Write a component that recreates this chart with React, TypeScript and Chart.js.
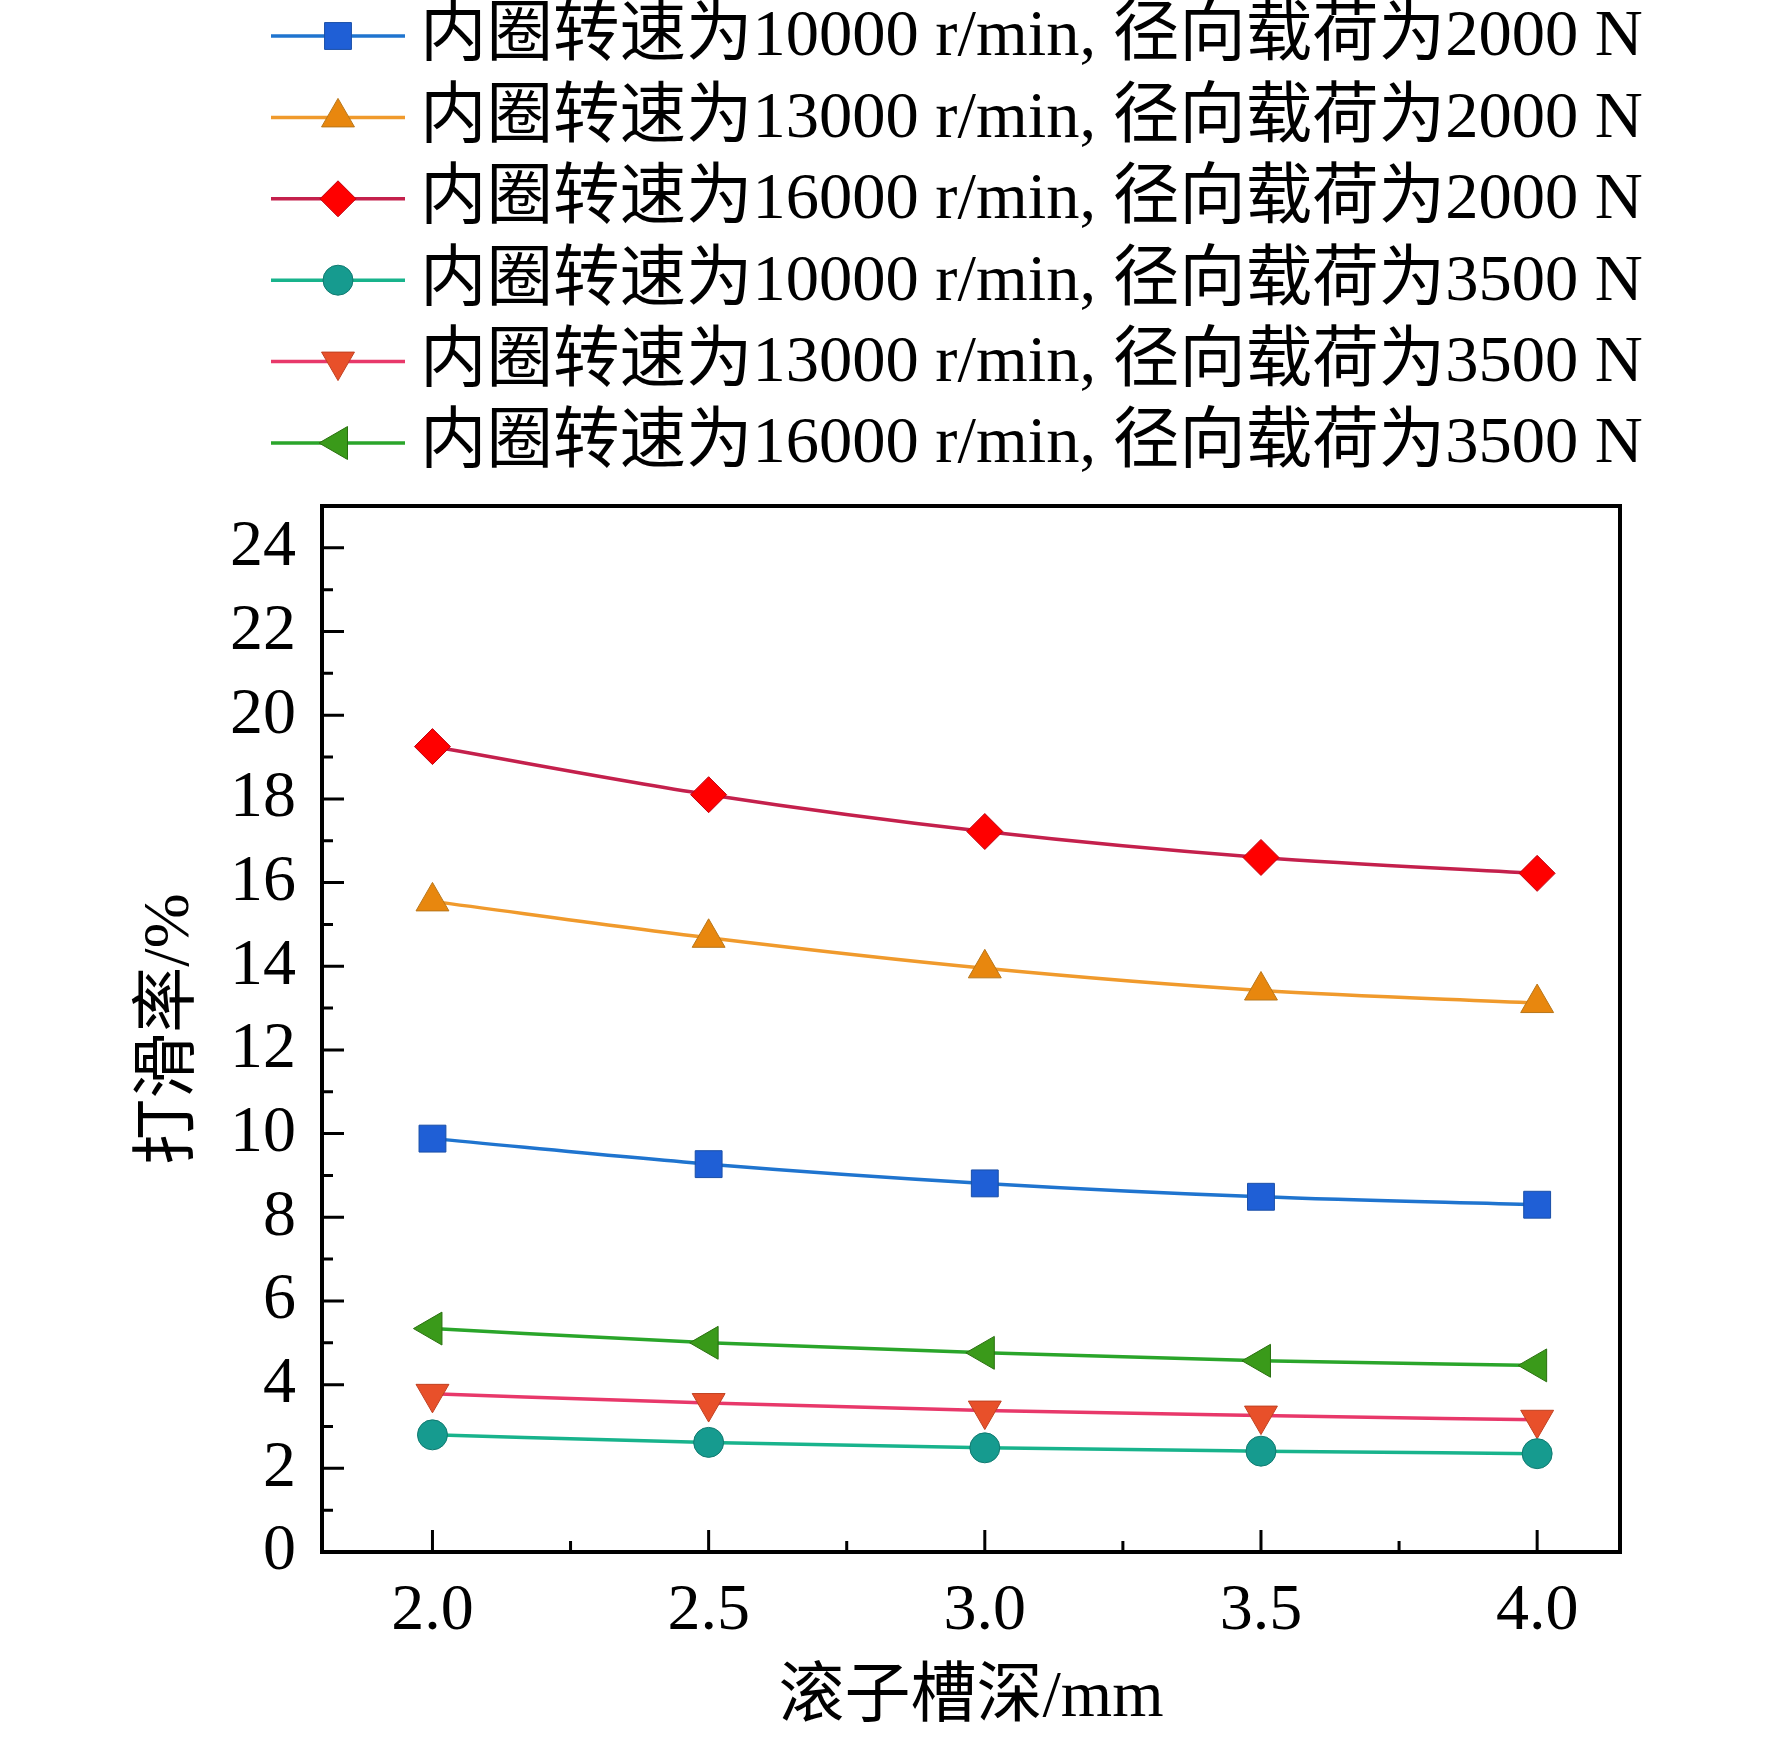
import React, { useEffect, useRef } from "react";
import { Chart, registerables } from "chart.js";

Chart.register(...registerables);

const xValues = [2.0, 2.5, 3.0, 3.5, 4.0];
const xTickValues = [2.0, 2.5, 3.0, 3.5, 4.0];
const xMinorTicks = [2.25, 2.75, 3.25, 3.75];
const yTickValues = [0, 2, 4, 6, 8, 10, 12, 14, 16, 18, 20, 22, 24];
const yMinorTicks = [1, 3, 5, 7, 9, 11, 13, 15, 17, 19, 21, 23];

const seriesLabels = [
  "内圈转速为10000 r/min, 径向载荷为2000 N",
  "内圈转速为13000 r/min, 径向载荷为2000 N",
  "内圈转速为16000 r/min, 径向载荷为2000 N",
  "内圈转速为10000 r/min, 径向载荷为3500 N",
  "内圈转速为13000 r/min, 径向载荷为3500 N",
  "内圈转速为16000 r/min, 径向载荷为3500 N",
];

const s10000_2000 = [9.88, 9.27, 8.81, 8.49, 8.3];
const s13000_2000 = [15.55, 14.68, 13.95, 13.42, 13.12];
const s16000_2000 = [19.25, 18.1, 17.22, 16.6, 16.22];
const s10000_3500 = [2.8, 2.62, 2.49, 2.41, 2.35];
const s13000_3500 = [3.78, 3.56, 3.38, 3.26, 3.16];
const s16000_3500 = [5.34, 5.0, 4.76, 4.57, 4.46];

const xTitle = "滚子槽深/mm";
const yTitle = "打滑率/%";

const FONT = '"Liberation Serif", "Times New Roman", "Noto Sans CJK SC", serif';

const styles = [
  { line: "#1f74cf", fill: "#1f5fd6", border: "#1a4fa8", shape: "rect", rot: 0, r: 19 },
  { line: "#f09a2c", fill: "#e8870e", border: "#b8761a", shape: "triangle", rot: 0, r: 19 },
  { line: "#c4204c", fill: "#ff0000", border: "#c00010", shape: "rectRot", rot: 0, r: 18 },
  { line: "#18b38c", fill: "#169b8f", border: "#107a70", shape: "circle", rot: 0, r: 15 },
  { line: "#e8386a", fill: "#e8502a", border: "#c04020", shape: "triangle", rot: 180, r: 19 },
  { line: "#2aa52a", fill: "#3a9a1a", border: "#2a7010", shape: "triangle", rot: -90, r: 19 },
];

const seriesData = [s10000_2000, s13000_2000, s16000_2000, s10000_3500, s13000_3500, s16000_3500];

function drawMarker(ctx: CanvasRenderingContext2D, style: string, r: number, rotDeg: number, x: number, y: number) {
  const rad = (rotDeg * Math.PI) / 180;
  ctx.beginPath();
  if (style === "circle") {
    ctx.arc(x, y, r, 0, Math.PI * 2);
  } else if (style === "rect") {
    const s = Math.SQRT1_2 * r;
    ctx.rect(x - s, y - s, 2 * s, 2 * s);
  } else if (style === "rectRot") {
    ctx.moveTo(x, y - r);
    ctx.lineTo(x + r, y);
    ctx.lineTo(x, y + r);
    ctx.lineTo(x - r, y);
    ctx.closePath();
  } else {
    for (let k = 0; k < 3; k++) {
      const a = rad + (k * 2 * Math.PI) / 3;
      const px = x + Math.sin(a) * r;
      const py = y - Math.cos(a) * r;
      if (k === 0) ctx.moveTo(px, py);
      else ctx.lineTo(px, py);
    }
    ctx.closePath();
  }
  ctx.fill();
  ctx.stroke();
}

const frameAndLegend = {
  id: "frameAndLegend",
  afterDraw(chart: any) {
    const ctx = chart.ctx;
    const { left, right, top, bottom } = chart.chartArea;
    const xs = chart.scales.x;
    const ys = chart.scales.y;
    ctx.save();
    ctx.strokeStyle = "#000";
    ctx.lineWidth = 3;
    ctx.lineCap = "butt";
    ctx.beginPath();
    yTickValues.forEach((v) => {
      const y = ys.getPixelForValue(v);
      ctx.moveTo(left, y);
      ctx.lineTo(left + 22, y);
    });
    yMinorTicks.forEach((v) => {
      const y = ys.getPixelForValue(v);
      ctx.moveTo(left, y);
      ctx.lineTo(left + 11, y);
    });
    xTickValues.forEach((v) => {
      const x = xs.getPixelForValue(v);
      ctx.moveTo(x, bottom);
      ctx.lineTo(x, bottom - 22);
    });
    xMinorTicks.forEach((v) => {
      const x = xs.getPixelForValue(v);
      ctx.moveTo(x, bottom);
      ctx.lineTo(x, bottom - 11);
    });
    ctx.stroke();
    ctx.lineWidth = 4;
    ctx.strokeRect(left, top, right - left, bottom - top);

    const rowY0 = 36;
    const rowStep = 81.4;
    const lineX0 = 271;
    const lineX1 = 405;
    const textX = 420;
    chart.data.datasets.forEach((ds: any, i: number) => {
      const y = rowY0 + i * rowStep;
      ctx.strokeStyle = ds.borderColor;
      ctx.lineWidth = 3.5;
      ctx.beginPath();
      ctx.moveTo(lineX0, y);
      ctx.lineTo(lineX1, y);
      ctx.stroke();
      ctx.fillStyle = ds.pointBackgroundColor;
      ctx.strokeStyle = ds.pointBorderColor;
      ctx.lineWidth = 1;
      drawMarker(ctx, ds.pointStyle, ds.pointRadius, ds.pointRotation, (lineX0 + lineX1) / 2, y);
      ctx.fillStyle = "#000";
      ctx.font = `66.5px ${FONT}`;
      ctx.textAlign = "left";
      ctx.textBaseline = "middle";
      ctx.fillText(ds.label, textX, y + 2);
    });
    ctx.restore();
  },
};

export default function App() {
  const canvasRef = useRef<HTMLCanvasElement | null>(null);

  useEffect(() => {
    if (!canvasRef.current) return;
    const datasets = seriesData.map((d, i) => ({
      label: seriesLabels[i],
      data: d.map((v, j) => ({ x: xValues[j], y: v })),
      borderColor: styles[i].line,
      borderWidth: 3.5,
      backgroundColor: styles[i].fill,
      pointBackgroundColor: styles[i].fill,
      pointBorderColor: styles[i].border,
      pointBorderWidth: 1,
      pointStyle: styles[i].shape,
      pointRotation: styles[i].rot,
      pointRadius: styles[i].r,
      tension: 0.3,
      cubicInterpolationMode: "monotone" as const,
      fill: false,
      clip: false as any,
    }));

    const chart = new Chart(canvasRef.current, {
      type: "line",
      data: { datasets },
      options: {
        animation: false,
        responsive: false,
        devicePixelRatio: 1,
        layout: { padding: { top: 506, right: 152, left: 0, bottom: 0 } },
        plugins: {
          legend: { display: false },
          tooltip: { enabled: false },
        },
        scales: {
          x: {
            type: "linear",
            min: 1.8,
            max: 4.15,
            grid: { display: false, drawTicks: false },
            border: { display: false },
            afterBuildTicks: (scale: any) => {
              scale.ticks = xTickValues.map((v) => ({ value: v }));
            },
            afterFit: (scale: any) => {
              scale.height = 1740 - 1552;
            },
            ticks: {
              color: "#000",
              padding: 20,
              font: { family: FONT, size: 66 },
              maxRotation: 0,
              callback: (v: any) => Number(v).toFixed(1),
            },
            title: {
              display: true,
              text: xTitle,
              color: "#000",
              font: { family: FONT, size: 66 },
              padding: { top: 0, bottom: 2 },
            },
          },
          y: {
            type: "linear",
            min: 0,
            max: 25,
            grid: { display: false, drawTicks: false },
            border: { display: false },
            afterBuildTicks: (scale: any) => {
              scale.ticks = yTickValues.map((v) => ({ value: v }));
            },
            afterFit: (scale: any) => {
              scale.width = 322;
            },
            ticks: {
              color: "#000",
              padding: 26,
              font: { family: FONT, size: 66 },
              callback: (v: any) => String(v),
            },
            title: {
              display: true,
              text: yTitle,
              color: "#000",
              font: { family: FONT, size: 66 },
              padding: { top: 131, bottom: 0 },
            },
          },
        },
      },
      plugins: [frameAndLegend],
    });
    return () => chart.destroy();
  }, []);

  return (
    <div style={{ position: "absolute", left: 0, top: 0, width: 1772, height: 1740, background: "#fff" }}>
      <canvas ref={canvasRef} width={1772} height={1740} style={{ width: 1772, height: 1740, display: "block" }} />
    </div>
  );
}
